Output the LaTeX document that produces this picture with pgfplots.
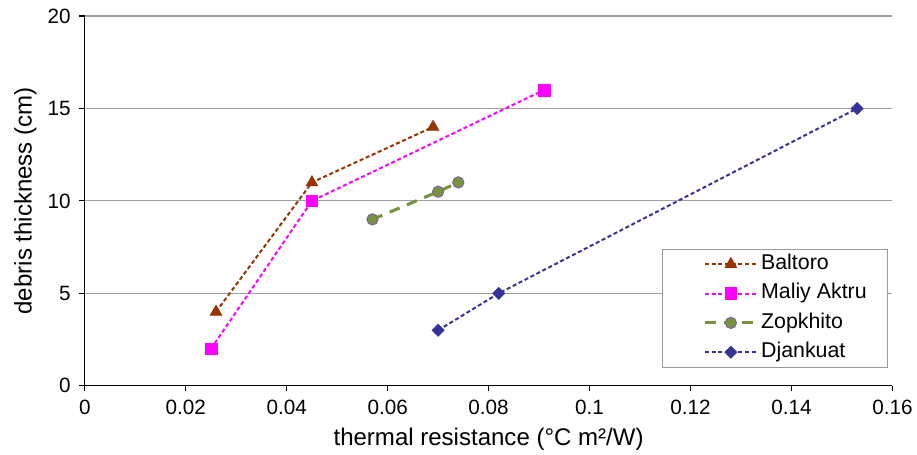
\documentclass[border=0pt]{standalone}
\usepackage{pgfplots}
\pgfplotsset{compat=1.18}
\usepackage{fontspec}
\setmainfont{Liberation Sans}
\definecolor{baltoro}{RGB}{153,51,0}
\definecolor{maliy}{RGB}{255,0,255}
\definecolor{zopk}{RGB}{119,147,60}
\definecolor{zopkedge}{RGB}{128,100,162}
\definecolor{djank}{RGB}{51,51,153}
\begin{document}
\begin{tikzpicture}
  \begin{axis}[
    scale only axis,
    width=605pt, height=277pt,
    xmin=0, xmax=0.16, ymin=0, ymax=20,
    xtick={0,0.02,...,0.16},
    ytick={0,5,...,20},
    scaled x ticks=false,
    xticklabel style={/pgf/number format/fixed, /pgf/number format/precision=2, yshift=-3pt},
    yticklabel style={xshift=-3pt},
    /pgf/number format/assume math mode=true,
    axis x line*=bottom, axis y line*=left,
    axis line style={black, line width=0.8pt},
    tick align=outside,
    tick style={black, line width=0.8pt},
    major tick length=4pt,
    ymajorgrids,
    grid style={gray!75, line width=0.8pt},
    ticklabel style={font=\fontsize{15.5}{18}\selectfont},
    label style={font=\fontsize{18}{21}\selectfont},
    xlabel={thermal resistance (°C m²/W)},
    ylabel={debris thickness (cm)},
    xlabel style={yshift=-3pt},
    ylabel style={yshift=1.5pt},
    clip=false,
    legend style={at={(0.715,0.371)}, anchor=north west,
      draw=gray!80, line width=0.8pt, font=\fontsize{16}{19}\selectfont,
      inner xsep=0pt, inner ysep=2.25pt,
      row sep=4pt, column sep=0pt,
      nodes={inner ysep=1pt, text height=12pt, text depth=4pt},
      cells={anchor=west}},
    legend cell align=left,
    legend image code/.code={
      \path[draw=none, fill=none] (0pt,-1pt) rectangle (70.5pt,1pt);
      \draw[#1, mark=none] (31.5pt,0pt) -- (70.5pt,0pt);
      \path[#1, solid] plot coordinates {(51pt,0pt)};
    },
  ]
    \addplot[color=baltoro, dash pattern=on 3pt off 2pt, line width=1.5pt, mark=triangle*, mark size=5pt, mark options={solid, fill=baltoro, line width=0.5pt}]
      coordinates {(0.026,4) (0.045,11) (0.069,14)};
    \addplot[color=maliy, dash pattern=on 3pt off 2pt, line width=1.5pt, mark=square*, mark size=4.4pt, mark options={solid, fill=maliy, line width=0.5pt}]
      coordinates {(0.025,2) (0.045,10) (0.091,16)};
    \addplot[color=zopk, dash pattern=on 8pt off 6pt, line width=2.3pt, mark=*, mark size=4.2pt, mark options={solid, fill=zopk, draw=zopkedge, line width=0.8pt}]
      coordinates {(0.057,9) (0.070,10.5) (0.074,11)};
    \addplot[color=djank, dash pattern=on 3pt off 2pt, line width=1.5pt, mark=square*, mark size=3.2pt, mark options={solid, fill=djank, line width=0.5pt, rotate=45}]
      coordinates {(0.070,3) (0.082,5) (0.153,15)};
    \legend{\makebox[93pt][l]{Baltoro}, \makebox[93pt][l]{Maliy Aktru}, \makebox[93pt][l]{Zopkhito}, \makebox[93pt][l]{Djankuat}}
    \path (rel axis cs:0,0) ++(-63.5pt,-49pt) coordinate (bbA);
    \path (rel axis cs:0,1) ++(0pt,12pt) coordinate (bbB);
  \end{axis}
  \path[use as bounding box] (bbA) rectangle ([xshift=18pt]bbB -| current axis.east);
\end{tikzpicture}
\end{document}
